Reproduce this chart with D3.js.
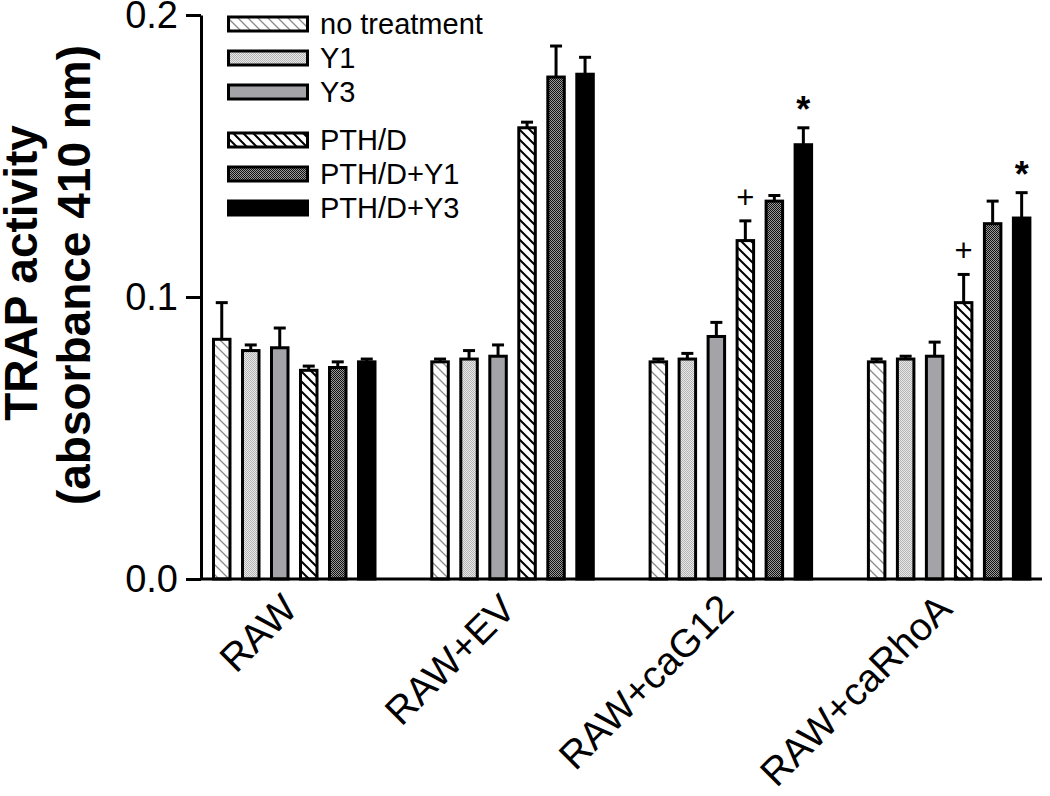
<!DOCTYPE html>
<html>
<head>
<meta charset="utf-8">
<script src="https://cdn.jsdelivr.net/npm/d3@7"></script>
<style>
  body { margin: 0; background: #fff; }
  text { font-family: "Liberation Sans", Arial, sans-serif; fill: #000; }
</style>
</head>
<body>
<div class="chart"></div>
<script>
// data
var groups = ["RAW", "RAW+EV", "RAW+caG12", "RAW+caRhoA"];
var series = ["no treatment", "Y1", "Y3", "PTH/D", "PTH/D+Y1", "PTH/D+Y3"];

var meanNoTreatment = [0.085, 0.077, 0.077, 0.077];
var meanY1          = [0.081, 0.078, 0.078, 0.078];
var meanY3          = [0.082, 0.079, 0.086, 0.079];
var meanPTHD        = [0.074, 0.160, 0.120, 0.098];
var meanPTHDY1      = [0.075, 0.178, 0.134, 0.126];
var meanPTHDY3      = [0.077, 0.179, 0.154, 0.128];

var semNoTreatment = [0.013, 0.001, 0.001, 0.001];
var semY1          = [0.002, 0.003, 0.002, 0.001];
var semY3          = [0.007, 0.004, 0.005, 0.005];
var semPTHD        = [0.0015, 0.002, 0.007, 0.010];
var semPTHDY1      = [0.002, 0.011, 0.002, 0.008];
var semPTHDY3      = [0.001, 0.006, 0.006, 0.009];

var yTicks = [0, 0.1, 0.2];

// significance marks
var marks = [
	{group: "RAW+caG12", series: "PTH/D", sym: "+"},
	{group: "RAW+caG12", series: "PTH/D+Y3", sym: "*"},
	{group: "RAW+caRhoA", series: "PTH/D", sym: "+"},
	{group: "RAW+caRhoA", series: "PTH/D+Y3", sym: "*"}
];

var allMeans = [meanNoTreatment, meanY1, meanY3, meanPTHD, meanPTHDY1, meanPTHDY3];
var allSem = [semNoTreatment, semY1, semY3, semPTHD, semPTHDY1, semPTHDY3];

var rows = [];
groups.forEach(function(g, gi){
	series.forEach(function(s, si){
		rows.push({group: g, series: s, mean: allMeans[si][gi], sem: allSem[si][gi]});
	});
});

var W = 1050, H = 796;
var svg = d3.select(".chart").append("svg")
	.attr("width", W)
	.attr("height", H);

// patterns
var defs = svg.append("defs");

var p0 = defs.append("pattern").attr("id", "pat-none")
	.attr("patternUnits", "userSpaceOnUse").attr("width", 10).attr("height", 10);
p0.append("rect").attr("width", 10).attr("height", 10).attr("fill", "#fff");
p0.append("path").attr("d", "M0,0L10,10M-5,5L5,15M5,-5L15,5")
	.attr("stroke", "#8a8a8a").attr("stroke-width", 1.3);

var p1 = defs.append("pattern").attr("id", "pat-y1")
	.attr("patternUnits", "userSpaceOnUse").attr("width", 2).attr("height", 2);
p1.append("rect").attr("width", 2).attr("height", 2).attr("fill", "#e8e8e8");
p1.append("rect").attr("width", 1).attr("height", 1).attr("fill", "#b4b4b4");
p1.append("rect").attr("x", 1).attr("y", 1).attr("width", 1).attr("height", 1).attr("fill", "#b4b4b4");

var p3 = defs.append("pattern").attr("id", "pat-pth")
	.attr("patternUnits", "userSpaceOnUse").attr("width", 10).attr("height", 10);
p3.append("rect").attr("width", 10).attr("height", 10).attr("fill", "#fff");
p3.append("path").attr("d", "M0,0L10,10M-5,5L5,15M5,-5L15,5")
	.attr("stroke", "#000").attr("stroke-width", 2);

var p4 = defs.append("pattern").attr("id", "pat-pthy1")
	.attr("patternUnits", "userSpaceOnUse").attr("width", 2).attr("height", 2);
p4.append("rect").attr("width", 2).attr("height", 2).attr("fill", "#9a9a9a");
p4.append("rect").attr("width", 1).attr("height", 1).attr("fill", "#111");
p4.append("rect").attr("x", 1).attr("y", 1).attr("width", 1).attr("height", 1).attr("fill", "#111");

var fillFor = d3.scaleOrdinal()
	.domain(series)
	.range(["url(#pat-none)", "url(#pat-y1)", "#a3a3a8", "url(#pat-pth)", "url(#pat-pthy1)", "#000"]);

// scales
var y = d3.scaleLinear().domain([0, 0.2]).range([579, 15]);

var x0 = d3.scaleBand()
	.domain(groups)
	.range([213.5, 213.5 + 4 * 218.3])
	.paddingInner(0).paddingOuter(0);

var x1 = d3.scaleBand()
	.domain(series)
	.range([0, 161.5])
	.paddingInner(0.431).paddingOuter(0);

// bars
var bars = svg.append("g");
bars.selectAll("rect")
	.data(rows)
	.enter()
	.append("rect")
	.attr("x", function(d){ return x0(d.group) + x1(d.series); })
	.attr("y", function(d){ return y(d.mean); })
	.attr("width", x1.bandwidth())
	.attr("height", function(d){ return y(0) - y(d.mean); })
	.attr("fill", function(d){ return fillFor(d.series); })
	.attr("stroke", "#000")
	.attr("stroke-width", 3);

// error bars (upper only)
var err = svg.append("g").attr("stroke", "#000").attr("stroke-width", 3);
rows.forEach(function(d){
	var cx = x0(d.group) + x1(d.series) + x1.bandwidth() / 2;
	err.append("line")
		.attr("x1", cx).attr("x2", cx)
		.attr("y1", y(d.mean)).attr("y2", y(d.mean + d.sem));
	err.append("line")
		.attr("x1", cx - 6).attr("x2", cx + 6)
		.attr("y1", y(d.mean + d.sem)).attr("y2", y(d.mean + d.sem));
});

// marks
marks.forEach(function(m){
	var d = rows.filter(function(r){ return r.group === m.group && r.series === m.series; })[0];
	var cx = x0(d.group) + x1(d.series) + x1.bandwidth() / 2;
	var top = y(d.mean + d.sem);
	if (m.sym === "+") {
		svg.append("text").attr("x", cx).attr("y", top - 13)
			.attr("text-anchor", "middle").style("font-size", "31px").text("+");
	} else {
		svg.append("text").attr("x", cx).attr("y", top - 6)
			.attr("text-anchor", "middle").style("font-size", "36px").style("font-weight", "bold").text("*");
	}
});

// y axis
var yAxis = svg.append("g")
	.attr("transform", "translate(201,0)")
	.call(d3.axisLeft(y).tickValues(yTicks).tickFormat(d3.format(".1f")).tickSize(15).tickSizeOuter(0).tickPadding(8));
yAxis.select(".domain").attr("stroke-width", 3);
yAxis.selectAll(".tick line").attr("stroke-width", 3);
yAxis.selectAll(".tick text")
	.style("font-size", "38px")
	.style("font-family", "'Liberation Sans', Arial, sans-serif");

// x axis line
svg.append("line")
	.attr("x1", 201).attr("x2", 1042)
	.attr("y1", y(0)).attr("y2", y(0))
	.attr("stroke", "#000").attr("stroke-width", 3);

// x labels
svg.append("g").selectAll("text")
	.data(groups)
	.enter()
	.append("text")
	.attr("transform", function(g){
		var cx = x0(g) + 161.5 / 2 + 5;
		return "translate(" + cx + ",611) rotate(-45)";
	})
	.attr("text-anchor", "end")
	.style("font-size", "39px")
	.text(function(g){ return g; });

// y title
svg.append("text")
	.attr("transform", "translate(37,273) rotate(-90)")
	.attr("text-anchor", "middle")
	.style("font-size", "46px").style("font-weight", "bold")
	.text("TRAP activity");
svg.append("text")
	.attr("transform", "translate(90,275) rotate(-90)")
	.attr("text-anchor", "middle")
	.style("font-size", "46px").style("font-weight", "bold")
	.text("(absorbance 410 nm)");

// legend
var legend = svg.append("g");
series.forEach(function(s, i){
	var cy = 24 + i * 34 + (i >= 3 ? 14 : 0);
	legend.append("rect")
		.attr("x", 228.5).attr("y", cy - 7)
		.attr("width", 79).attr("height", 14)
		.attr("fill", fillFor(s))
		.attr("stroke", "#000").attr("stroke-width", 3);
	legend.append("text")
		.attr("x", 320)
		.attr("y", cy + 10)
		.style("font-size", "29px")
		.text(s);
});
</script>
</body>
</html>
